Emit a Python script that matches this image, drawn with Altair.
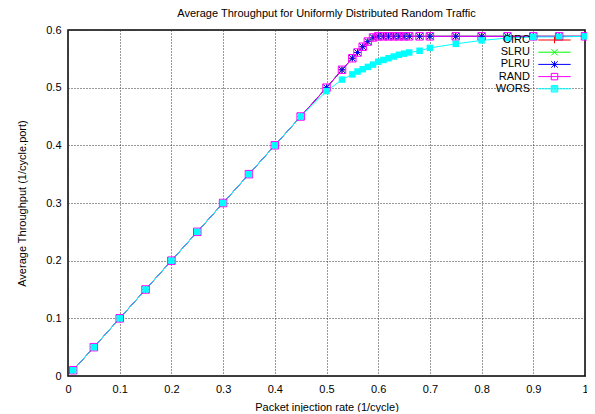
import altair as alt
import pandas as pd

series = ["CIRC", "SLRU", "PLRU", "RAND", "WORS"]
colors = ["#ff0000", "#00ff00", "#0000ff", "#ff00ff", "#00ffff"]

rate = [0.01, 0.05, 0.10, 0.15, 0.20, 0.25, 0.30, 0.35, 0.40, 0.45, 0.50,
        0.53, 0.55, 0.56, 0.57, 0.58, 0.59, 0.60, 0.61, 0.62, 0.63, 0.64,
        0.65, 0.66, 0.68, 0.70, 0.75, 0.80, 0.85, 0.90, 0.95, 1.00]

circ = [0.01, 0.05, 0.10, 0.15, 0.20, 0.25, 0.30, 0.35, 0.40, 0.45, 0.500,
        0.531, 0.551, 0.561, 0.571, 0.580, 0.587, 0.589, 0.589, 0.589, 0.589, 0.589,
        0.589, 0.589, 0.589, 0.589, 0.589, 0.589, 0.589, 0.589, 0.589, 0.589]
slru = [0.01, 0.05, 0.10, 0.15, 0.20, 0.25, 0.30, 0.35, 0.40, 0.45, 0.500,
        0.531, 0.551, 0.561, 0.571, 0.580, 0.587, 0.589, 0.589, 0.589, 0.589, 0.589,
        0.589, 0.589, 0.589, 0.589, 0.589, 0.589, 0.589, 0.589, 0.589, 0.589]
plru = [0.01, 0.05, 0.10, 0.15, 0.20, 0.25, 0.30, 0.35, 0.40, 0.45, 0.500,
        0.531, 0.551, 0.561, 0.571, 0.580, 0.587, 0.589, 0.589, 0.589, 0.589, 0.589,
        0.589, 0.589, 0.589, 0.589, 0.589, 0.589, 0.589, 0.589, 0.589, 0.589]
rand = [0.01, 0.05, 0.10, 0.15, 0.20, 0.25, 0.30, 0.35, 0.40, 0.45, 0.500,
        0.531, 0.551, 0.561, 0.571, 0.580, 0.587, 0.589, 0.589, 0.589, 0.589, 0.589,
        0.589, 0.589, 0.589, 0.589, 0.589, 0.589, 0.589, 0.589, 0.589, 0.589]
wors = [0.01, 0.05, 0.10, 0.15, 0.20, 0.25, 0.30, 0.35, 0.40, 0.45, 0.494,
        0.514, 0.523, 0.528, 0.532, 0.536, 0.540, 0.545, 0.548, 0.551, 0.554, 0.557,
        0.559, 0.561, 0.564, 0.569, 0.576, 0.582, 0.586, 0.588, 0.588, 0.589]

x_ticks = [0, 0.1, 0.2, 0.3, 0.4, 0.5, 0.6, 0.7, 0.8, 0.9, 1.0]
y_ticks = [0, 0.1, 0.2, 0.3, 0.4, 0.5, 0.6]

rows = []
for name, ys in zip(series, [circ, slru, plru, rand, wors]):
    for xv, yv in zip(rate, ys):
        rows.append({"series": name, "rate": xv, "thr": yv})
df = pd.DataFrame(rows)
legend_df = pd.DataFrame({"series": series})

FONT = "Liberation Sans"

# marker shapes (unit paths)
PLUS = "M-1,0H1M0,-1V1"
CROSS = "M-1,-1L1,1M-1,1L1,-1"
STAR = "M-1,0H1M0,-1V1M-1,-1L1,1M-1,1L1,-1"
marker_paths = {"CIRC": PLUS, "SLRU": CROSS, "PLRU": STAR, "RAND": "square"}
marker_sizes = {"CIRC": 42, "SLRU": 42, "PLRU": 42, "RAND": 56}

# legend sample = line + marker (leading move-to keeps every entry's bounds equal)
LINE = "M-20,0M-5,0H5"
legend_paths = [
    LINE + "M0,-1V1",
    LINE + CROSS,
    LINE + STAR,
    LINE + "M-1,-1H1V1H-1Z",
    LINE + "M-1,-1H1V1H-1ZM-1,-0.67H1M-1,-0.33H1M-1,0.33H1M-1,0.67H1",
]

xscale = alt.Scale(domain=[0, 1], nice=False, zero=False)
yscale = alt.Scale(domain=[0, 0.6], nice=False)
# colour scale for the data marks: domain taken from the data (sorted by name)
color_lookup = dict(zip(series, colors))
sorted_series = sorted(series)
color_scale = alt.Scale(range=[color_lookup[s] for s in sorted_series])

axis_common = dict(
    grid=True, gridDash=[1, 2], gridColor="#333333", gridWidth=1,
    domain=False, ticks=False, labelPadding=7, labelFlush=False,
    labelFont=FONT, labelFontSize=11, labelColor="#000000",
    titleFont=FONT, titleFontSize=11, titleFontWeight="normal", titleColor="#000000",
    format="~g",
)

x_enc = alt.X("rate:Q", scale=xscale,
              axis=alt.Axis(values=x_ticks, title="Packet injection rate (1/cycle)",
                            titleY=31, titleBaseline="middle", **axis_common))
y_enc = alt.Y("thr:Q", scale=yscale,
              axis=alt.Axis(values=y_ticks, title="Average Throughput (1/cycle.port)",
                            titleX=-46, titleY=173, titleAlign="center",
                            titleBaseline="middle", titleAngle=270, **axis_common))
col = alt.Color("series:N", scale=color_scale, legend=None)

base = alt.Chart(df)

lines = base.mark_line(strokeWidth=1).encode(x=x_enc, y=y_enc, color=col, detail="series:N")

layers = [lines]
for name in series[:4]:
    layers.append(
        base.transform_filter(alt.datum.series == name)
        .mark_point(shape=marker_paths[name], filled=False, size=marker_sizes[name],
                    strokeWidth=1, opacity=1)
        .encode(x=x_enc, y=y_enc, color=col)
    )
layers.append(
    base.transform_filter(alt.datum.series == "WORS")
    .mark_point(shape="square", filled=True, size=42, opacity=1)
    .encode(x=x_enc, y=y_enc, color=col)
)

leg = alt.Legend(title=None, orient="none", legendX=424, legendY=4.5, direction="vertical",
                 labelAlign="right", labelOffset={"expr": "-30"}, symbolOffset=57,
                 symbolSize=42, symbolStrokeWidth=1, symbolOpacity=1, labelFont=FONT,
                 labelFontSize=11, labelColor="#000000", rowPadding=0.2, padding=0)
legend_layer = (
    alt.Chart(legend_df)
    .mark_point(filled=False, size=1, strokeWidth=1, opacity=0)
    .encode(
        stroke=alt.Stroke("series:N", scale=alt.Scale(domain=series, range=colors), legend=leg),
        shape=alt.Shape("series:N", scale=alt.Scale(domain=series, range=legend_paths), legend=leg),
    )
)
layers.append(legend_layer)

chart = (
    alt.layer(*layers)
    .properties(
        width=517, height=346,
        title=alt.TitleParams("Average Throughput for Uniformly Distributed Random Traffic",
                              font=FONT, fontSize=11, fontWeight="normal", color="#000000",
                              offset=5, anchor="middle"),
        autosize=alt.AutoSizeParams(type="none"),
        padding={"left": 60, "top": 22, "right": 2, "bottom": 36},
        background="white",
    )
    .configure_view(stroke="#000000", strokeWidth=1.5)
)

chart.save("out.html", embed_options={"renderer": "svg", "actions": False})
